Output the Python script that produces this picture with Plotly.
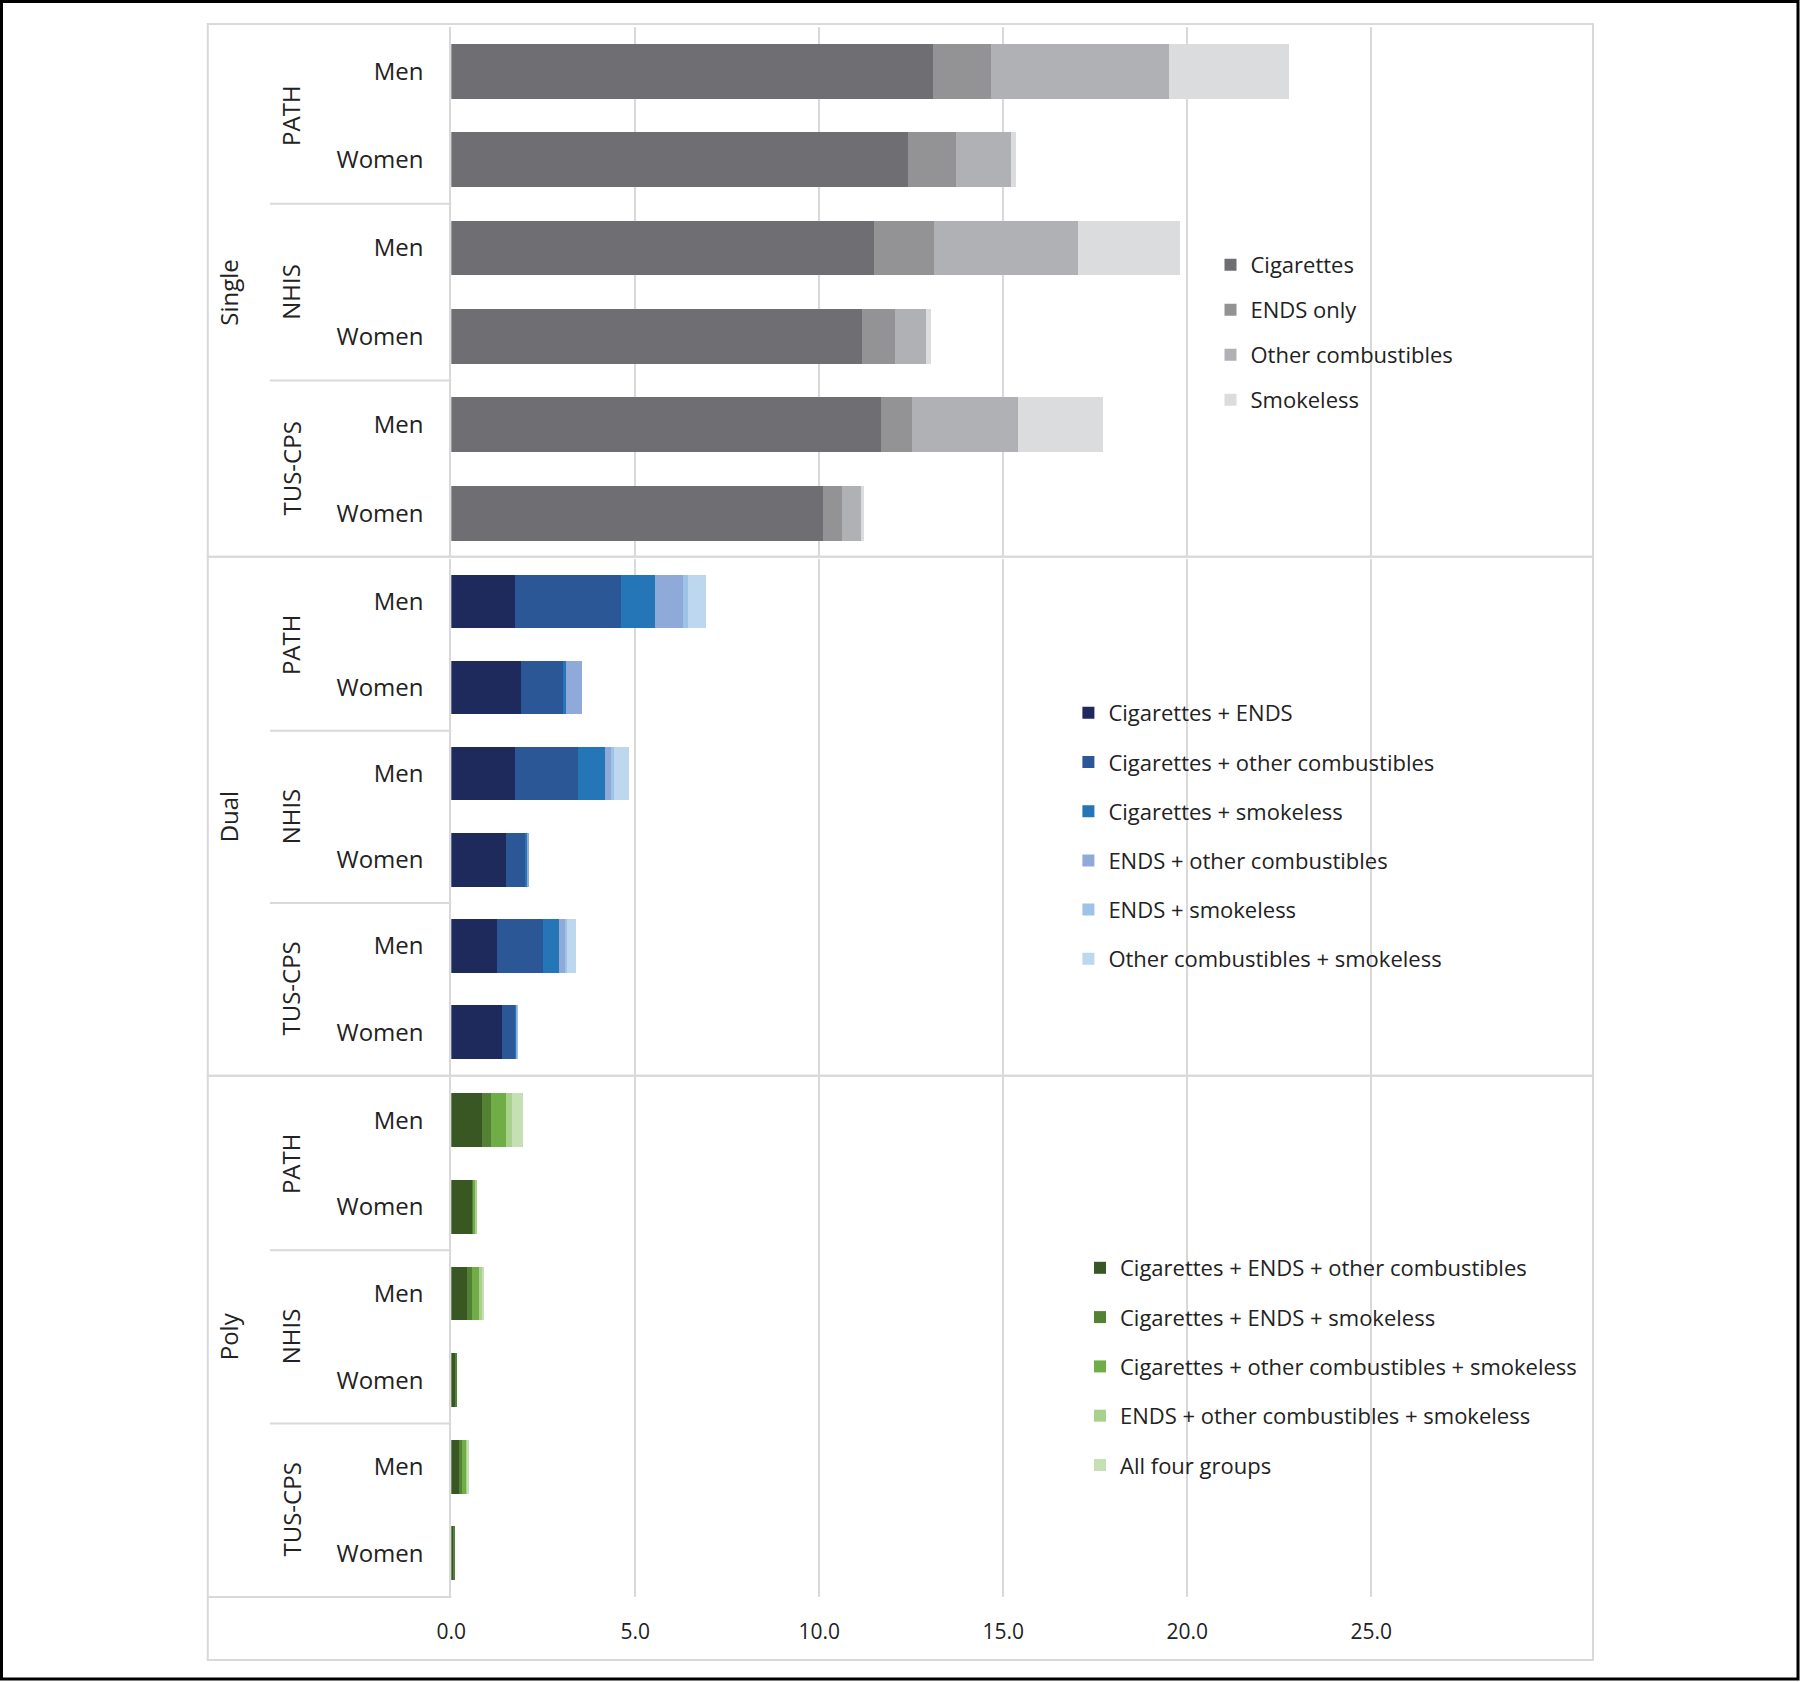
import plotly.graph_objects as go

W, H = 1800, 1682

# ---------------- data ----------------
panels = ["Single", "Dual", "Poly"]
surveys = ["PATH", "NHIS", "TUS-CPS"]
rows = ["Men", "Women", "Men", "Women", "Men", "Women"]
x_ticks = [0, 5, 10, 15, 20, 25]
x_ticktext = ["0.0", "5.0", "10.0", "15.0", "20.0", "25.0"]

single_names = ["Cigarettes", "ENDS only", "Other combustibles", "Smokeless"]
single_cig = [13.09, 12.42, 11.48, 11.16, 11.68, 10.09]
single_ends = [1.57, 1.30, 1.63, 0.91, 0.83, 0.53]
single_other = [4.85, 1.48, 3.93, 0.84, 2.88, 0.51]
single_smokeless = [3.26, 0.14, 2.77, 0.13, 2.32, 0.08]

dual_names = ["Cigarettes + ENDS", "Cigarettes + other combustibles",
              "Cigarettes + smokeless", "ENDS + other combustibles",
              "ENDS + smokeless", "Other combustibles + smokeless"]
dual_cig_ends = [1.74, 1.90, 1.72, 1.50, 1.23, 1.39]
dual_cig_other = [2.86, 1.17, 1.72, 0.53, 1.27, 0.35]
dual_cig_smk = [0.93, 0.05, 0.74, 0.04, 0.44, 0.04]
dual_ends_other = [0.77, 0.42, 0.16, 0.04, 0.15, 0.02]
dual_ends_smk = [0.13, 0.00, 0.08, 0.00, 0.06, 0.02]
dual_other_smk = [0.49, 0.00, 0.42, 0.00, 0.23, 0.00]

poly_names = ["Cigarettes + ENDS + other combustibles", "Cigarettes + ENDS + smokeless",
              "Cigarettes + other combustibles + smokeless",
              "ENDS + other combustibles + smokeless", "All four groups"]
poly_ceo = [0.84, 0.55, 0.44, 0.12, 0.20, 0.08]
poly_ces = [0.23, 0.07, 0.12, 0.03, 0.08, 0.02]
poly_cos = [0.42, 0.05, 0.22, 0.00, 0.14, 0.00]
poly_eos = [0.15, 0.01, 0.05, 0.00, 0.03, 0.00]
poly_all = [0.32, 0.00, 0.06, 0.00, 0.04, 0.00]

single_colors = ["#6f6f73", "#939396", "#b0b1b4", "#dbdcde"]
dual_colors = ["#1f2a5c", "#2b5797", "#2476b6", "#8faad8", "#9dc3e6", "#bdd7ee"]
poly_colors = ["#385723", "#548235", "#70ad47", "#a9d18e", "#c5e0b4"]

series = [
    (single_names, [single_cig, single_ends, single_other, single_smokeless], single_colors),
    (dual_names, [dual_cig_ends, dual_cig_other, dual_cig_smk, dual_ends_other,
                  dual_ends_smk, dual_other_smk], dual_colors),
    (poly_names, [poly_ceo, poly_ces, poly_cos, poly_eos, poly_all], poly_colors),
]

# ---------------- layout geometry (pixels) ----------------
FONT = "Open Sans"
TXT = "#222222"
GRID = "#d9d9d9"

def px(x):
    return x / W

def py(y):
    return 1 - y / H

x0_px = 451.3
unit = 36.8
xmax = 26
x_dom = [px(x0_px), px(x0_px + xmax * unit)]

# plot-area top/bottom per panel (px)
plot_px = [(27.0, 557.4), (558.5, 1075.2), (1077.0, 1596.6)]
panel_px = [(24.0, 556.8), (556.8, 1075.7), (1075.7, 1660.0)]
legend_cfg = [  # x of legend, y top, gap
    dict(x=1210.5, y=244, gap=13.4),
    dict(x=1068.4, y=692, gap=17.6),
    dict(x=1080, y=1247, gap=17.7),
]

fig = go.Figure()
ypos = list(range(6))

for p, (names, vals, cols) in enumerate(series):
    ax = "" if p == 0 else str(p + 1)
    leg = "legend" if p == 0 else "legend" + str(p + 1)
    for i, (nm, v, c) in enumerate(zip(names, vals, cols)):
        fig.add_trace(go.Bar(
            x=v, y=ypos, orientation="h", name=nm,
            marker=dict(color=c, line=dict(width=0)),
            width=0.62, xaxis="x" + ax, yaxis="y" + ax,
            legend=leg, legendgroup=f"{p}-{i}",
        ))

layout = dict(
    width=W, height=H,
    margin=dict(l=0, r=0, t=0, b=0, pad=0, autoexpand=False),
    paper_bgcolor="white", plot_bgcolor="white",
    barmode="stack", bargap=0.38,
    font=dict(family=FONT, size=22, color=TXT),
)

for p in range(3):
    ax = "" if p == 0 else str(p + 1)
    top, bot = plot_px[p]
    layout["xaxis" + ax] = dict(
        domain=x_dom, range=[0, xmax], anchor="y" + ax, automargin=False,
        tickvals=x_ticks, ticktext=x_ticktext,
        showticklabels=(p == 2), ticks="", ticklabelstandoff=20,
        showgrid=True, gridcolor=GRID, gridwidth=1.5,
        zeroline=False, showline=False,
        tickfont=dict(family=FONT, size=21, color=TXT),
        fixedrange=True,
    )
    layout["yaxis" + ax] = dict(
        domain=[py(bot), py(top)], range=[5.5, -0.5], anchor="x" + ax,
        automargin=False,
        tickvals=ypos, ticktext=rows, ticks="", ticklabelstandoff=21,
        showgrid=False, zeroline=False,
        showline=True, linecolor=GRID, linewidth=2,
        tickfont=dict(family=FONT, size=24, color=TXT),
        fixedrange=True,
    )
    lc = legend_cfg[p]
    layout["legend" if p == 0 else "legend" + str(p + 1)] = dict(
        x=px(lc["x"]), y=py(lc["y"]), xanchor="left", yanchor="top",
        traceorder="grouped", tracegroupgap=lc["gap"],
        bgcolor="rgba(0,0,0,0)", borderwidth=0,
        font=dict(family=FONT, size=22, color=TXT),
    )

shapes = []
annotations = []
# outer black frame
shapes.append(dict(type="rect", xref="paper", yref="paper",
                   x0=px(1.5), x1=px(1798), y0=py(1.5), y1=py(1679),
                   line=dict(color="black", width=3), layer="above"))
for p in range(3):
    ax = "" if p == 0 else str(p + 1)
    t, b = panel_px[p]
    shapes.append(dict(type="rect", xref="paper", yref="paper",
                       x0=px(207.8), x1=px(1593), y0=py(b), y1=py(t),
                       line=dict(color=GRID, width=2), layer="below"))
    # group dividers in category label box
    for yb in (1.5, 3.5):
        shapes.append(dict(type="line", xref="paper", yref="y" + ax,
                           x0=px(270), x1=px(x0_px), y0=yb, y1=yb,
                           line=dict(color=GRID, width=2)))
    # survey labels
    for s, nm in enumerate(surveys):
        annotations.append(dict(text=nm, xref="paper", yref="y" + ax,
                                x=px(290.5), y=2 * s + 0.5, showarrow=False,
                                textangle=-90, xanchor="center", yanchor="middle",
                                font=dict(family=FONT, size=24, color=TXT)))
    annotations.append(dict(text=panels[p], xref="paper", yref="y" + ax,
                            x=px(228.5), y=2.5, showarrow=False,
                            textangle=-90, xanchor="center", yanchor="middle",
                            font=dict(family=FONT, size=24, color=TXT)))

# bottom edge of the category box in the last panel
shapes.append(dict(type="line", xref="paper", yref="paper",
                   x0=px(207.8), x1=px(x0_px), y0=py(1597), y1=py(1597),
                   line=dict(color=GRID, width=2)))

layout["shapes"] = shapes
layout["annotations"] = annotations
fig.update_layout(**layout)

fig.write_html(
    "out.html",
    config={"displayModeBar": False},
    post_script="document.documentElement.style.margin='0';"
                "document.body.style.margin='0';"
                "document.body.style.overflow='hidden';",
)
